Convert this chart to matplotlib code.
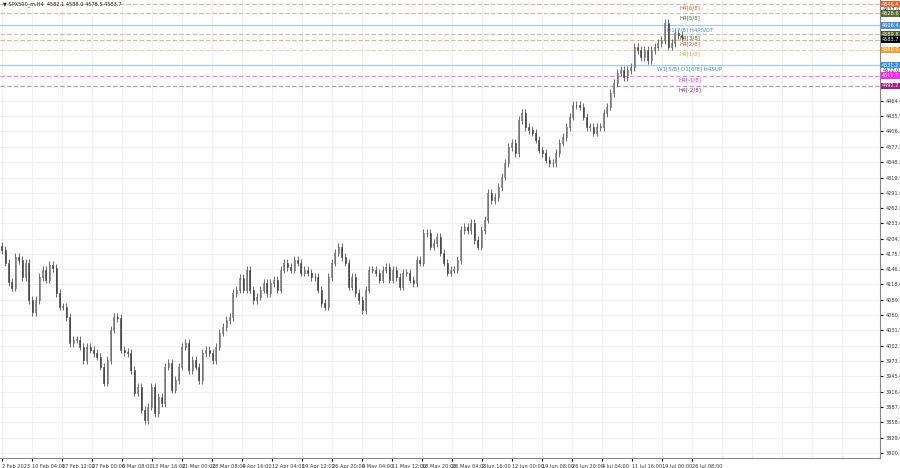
import matplotlib
matplotlib.use("Agg")
import matplotlib.pyplot as plt
import numpy as np

# H4 closes, left to right
closes = [
    4183, 4159, 4123, 4112, 4170, 4164, 4132, 4159, 4089, 4066, 4089, 4132, 4146, 4127, 4155, 4149,
    4102, 4076, 4076, 4057, 4008, 4014, 4014, 4001, 3976, 4001, 3995, 3989, 3982, 3963, 3933, 3976,
    4033, 4057, 4055, 3995, 3991, 3989, 3957, 3914, 3925, 3882, 3863, 3888, 3925, 3876, 3906, 3895,
    3963, 3970, 3920, 3938, 3963, 4001, 4008, 3957, 3976, 3963, 3938, 3989, 3995, 3989, 3976, 4001,
    4027, 4038, 4051, 4057, 4102, 4108, 4131, 4108, 4146, 4108, 4089, 4095, 4108, 4121, 4102, 4121,
    4127, 4108, 4146, 4159, 4151, 4146, 4164, 4159, 4140, 4146, 4140, 4132, 4132, 4108, 4083, 4076,
    4132, 4159, 4178, 4189, 4170, 4159, 4114, 4132, 4102, 4089, 4070, 4108, 4146, 4146, 4140, 4127,
    4146, 4151, 4127, 4146, 4132, 4114, 4140, 4140, 4127, 4121, 4164, 4159, 4215, 4215, 4189, 4196,
    4208, 4178, 4159, 4140, 4146, 4146, 4164, 4221, 4227, 4221, 4234, 4202, 4189, 4221, 4240, 4291,
    4277, 4283, 4302, 4321, 4347, 4377, 4385, 4366, 4428, 4441, 4415, 4409, 4404, 4391, 4372, 4366,
    4353, 4347, 4347, 4366, 4385, 4396, 4415, 4434, 4456, 4456, 4453, 4434, 4415, 4415, 4404, 4415,
    4415, 4441, 4453, 4479, 4498, 4517, 4522, 4509, 4522, 4528, 4566, 4560, 4547, 4560, 4541, 4560,
    4566, 4573, 4579, 4611, 4566, 4573, 4592, 4588, 4583.7,
]
opens = [closes[0] + 8] + closes[:-1]

date_labels = ["2 Feb 2023", "10 Feb 04:00", "17 Feb 12:00", "27 Feb 00:00", "6 Mar 08:00",
               "13 Mar 16:00", "21 Mar 00:00", "28 Mar 08:00", "4 Apr 16:00", "12 Apr 04:00",
               "19 Apr 12:00", "26 Apr 20:00", "4 May 04:00", "11 May 12:00", "18 May 20:00",
               "26 May 04:00", "2 Jun 16:00", "12 Jun 00:00", "19 Jun 08:00", "26 Jun 20:00",
               "4 Jul 04:00", "11 Jul 16:00", "19 Jul 00:00", "26 Jul 08:00"]

price_ticks = [4464.0, 4435.5, 4406.5, 4377.5, 4348.5, 4319.5, 4291.0, 4262.0, 4233.0, 4204.5,
               4175.5, 4146.5, 4118.0, 4089.0, 4060.0, 4031.5, 4002.5, 3973.5, 3945.0, 3916.0,
               3887.0, 3858.0, 3829.0, 3800.5]

level_prices = [4646.4, 4628.6, 4606.4, 4589.8, 4579.1, 4560.0, 4531.2, 4511.7, 4492.2]
level_names = ["H4[6/8]", "H4[5/8]", "D1[7/8] H4PIVOT", "H4[3/8]", "H4[2/8]", "H4[1/8]",
               "W1[5/8] D1[6/8] H4SUP", "H4[-1/8]", "H4[-2/8]"]
level_colors = ["#e2622c", "#5a6b32", "#4a90d9", "#4b5e2b", "#e05a20", "#f0a030",
                "#3a8ee6", "#ff22ff", "#a0207a"]
level_lines = ["#c8c0b0", "#c8c0b0", "#a8c8e8", "#c8c0b0", "#d8b8a0", "#e8d8b0",
               "#a8c8e8", "#ee88ee", "#d090c0"]
level_styles = ["--", "--", "-", "--", "--", "--", "-", "--", "--"]

fig = plt.figure(figsize=(9, 4.68), dpi=100)
ax = fig.add_axes([0.0, 10 / 468, 880 / 900, 458 / 468])
n = len(closes)
px = 3.4  # pixels per bar
ax.set_xlim(-0.5, 880 / px - 0.5)
ax.set_ylim(3791, 4654)

for y in price_ticks:
    ax.axhline(y, color="#eeeeee", lw=0.6, zorder=0)
for i in range(len(date_labels) + 5):
    ax.axvline(i * 30 / px, color="#eeeeee", lw=0.6, zorder=0)

x = np.arange(n)
hi = [max(o, c) + 7 for o, c in zip(opens, closes)]
lo = [min(o, c) - 7 for o, c in zip(opens, closes)]
ax.vlines(x, lo, hi, color="#555555", lw=0.6, zorder=2)
for i in range(n):
    o, c = opens[i], closes[i]
    up = c >= o
    ax.bar(i, max(abs(c - o), 0.8), bottom=min(o, c), width=0.35,
           color="white" if up else "#333333", edgecolor="#444444", lw=0.4, zorder=3)

fs = 3.6
for p, name, col, lc, ls in zip(level_prices, level_names, level_colors, level_lines, level_styles):
    ax.axhline(p, color=lc, lw=0.9, ls=ls, zorder=1)
    ax.text(688 / px, p - 3, name, color=col, fontsize=fs + 0.4, ha="center", va="top", zorder=4)
    ax.text(1.002, p, f"{p:.1f}", transform=ax.get_yaxis_transform(), color="white",
            fontsize=fs, va="center", ha="left",
            bbox=dict(boxstyle="square,pad=0.15", fc=col, ec="none"), clip_on=False)
ax.text(1.002, closes[-1] - 4, f"{closes[-1]:.1f}", transform=ax.get_yaxis_transform(), color="white",
        fontsize=fs, va="center", ha="left",
        bbox=dict(boxstyle="square,pad=0.15", fc="black", ec="none"), clip_on=False)
for p in [4637.0, 4522.0]:
    ax.text(1.003, p, f"{p:.1f}", transform=ax.get_yaxis_transform(), color="#333333",
            fontsize=fs, va="center", ha="left", clip_on=False)

ax.yaxis.tick_right()
ax.set_yticks(price_ticks)
ax.set_yticklabels([f"{t:.1f}" for t in price_ticks], fontsize=fs, color="#333333")
ax.tick_params(axis="y", length=2, pad=2)
ax.set_xticks([i * 30 / px for i in range(len(date_labels))])
ax.set_xticklabels(date_labels, fontsize=fs, color="#333333", ha="left")
ax.tick_params(axis="x", length=2, pad=2)
for s in ["top", "left"]:
    ax.spines[s].set_visible(False)
for s in ["right", "bottom"]:
    ax.spines[s].set_color("#888888")

ax.text(0.003, 0.997, "▼ SPX500_m,H4  4582.1 4588.0 4578.5 4583.7", transform=ax.transAxes,
        fontsize=fs, va="top", ha="left", color="#222222")

fig.savefig("out.png", dpi=100)
